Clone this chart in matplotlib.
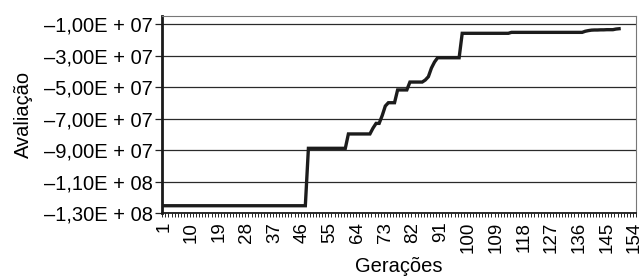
import matplotlib
matplotlib.use("Agg")
import matplotlib.pyplot as plt

# ---- data ----
generations = list(range(1, 150))  # 149 generations plotted
avaliacao = (
    [-1.252e8] * 47 +                                  # gens 1-47
    [-8.88e7] * 13 +                                   # gens 48-60
    [-7.97e7] * 8 +                                    # gens 61-68
    [-7.60e7, -7.30e7, -7.30e7] +                      # gens 69-71
    [-6.80e7, -6.20e7] +                               # gens 72-73
    [-5.99e7] * 3 +                                    # gens 74-76
    [-5.18e7] * 4 +                                    # gens 77-80
    [-4.68e7] * 5 +                                    # gens 81-85
    [-4.55e7, -4.34e7, -3.79e7, -3.41e7] +             # gens 86-89
    [-3.14e7] * 8 +                                    # gens 90-97
    [-1.59e7] * 16 +                                   # gens 98-113
    [-1.53e7] * 24 +                                   # gens 114-137
    [-1.46e7, -1.42e7, -1.39e7, -1.38e7, -1.38e7,
     -1.37e7, -1.37e7, -1.36e7, -1.36e7, -1.36e7,
     -1.32e7, -1.30e7]                                 # gens 138-149
)
n_categories = 154
xtick_labels = [str(v) for v in range(1, 155, 9)]
ytick_values = [-1.0e7, -3.0e7, -5.0e7, -7.0e7, -9.0e7, -1.1e8, -1.3e8]
ytick_labels = ["\u20131,00E + 07", "\u20133,00E + 07", "\u20135,00E + 07",
                "\u20137,00E + 07", "\u20139,00E + 07", "\u20131,10E + 08",
                "\u20131,30E + 08"]
xlabel = "Gerações"
ylabel = "Avaliação"

plt.rcParams['font.family'] = ['Liberation Sans', 'DejaVu Sans']

fig = plt.figure(figsize=(6.44, 2.79), dpi=100)
ax = fig.add_axes([162.3 / 644, 1 - 213.3 / 279, (636 - 162.3) / 644, (213.3 - 16) / 279])

ax.plot(generations, avaliacao, color="#1c1c1c", lw=2.4, solid_joinstyle="miter", zorder=3)

ax.set_xlim(0.5, n_categories + 0.5)
ax.set_ylim(-1.3e8, -1.0e7 + 8 * (1.2e8 / 189.3))

ax.set_yticks(ytick_values)
ax.set_yticklabels(ytick_labels, fontsize=14.5)
ax.yaxis.grid(True, color="#2a2a2a", lw=0.9)
ax.set_axisbelow(True)

# category boundary ticks (unlabelled)
ax.set_xticks([i + 0.5 for i in range(0, n_categories + 1)])
ax.set_xticklabels([])
ax.tick_params(axis="x", which="major", length=3, width=0.7, color="#222222", direction="out")
# labels on categories
ax.set_xticks([int(v) for v in xtick_labels], minor=True)
ax.set_xticklabels(xtick_labels, minor=True, rotation=90, fontsize=13.5)
ax.tick_params(axis="x", which="minor", length=0, pad=6)
ax.tick_params(axis="y", length=5, width=0.9, color="#222222", pad=2)

for s in ("top", "right"):
    ax.spines[s].set_color("#777777")
    ax.spines[s].set_linewidth(0.8)
ax.spines["left"].set_color("#1a1a1a")
ax.spines["left"].set_linewidth(2.0)
ax.spines["bottom"].set_color("#1a1a1a")
ax.spines["bottom"].set_linewidth(1.3)

ax.set_xlabel(xlabel, fontsize=14.5, labelpad=3)
ax.set_ylabel(ylabel, fontsize=14.5)
ax.yaxis.set_label_coords(-0.273, 0.5)

fig.savefig("out.png", dpi=100)
